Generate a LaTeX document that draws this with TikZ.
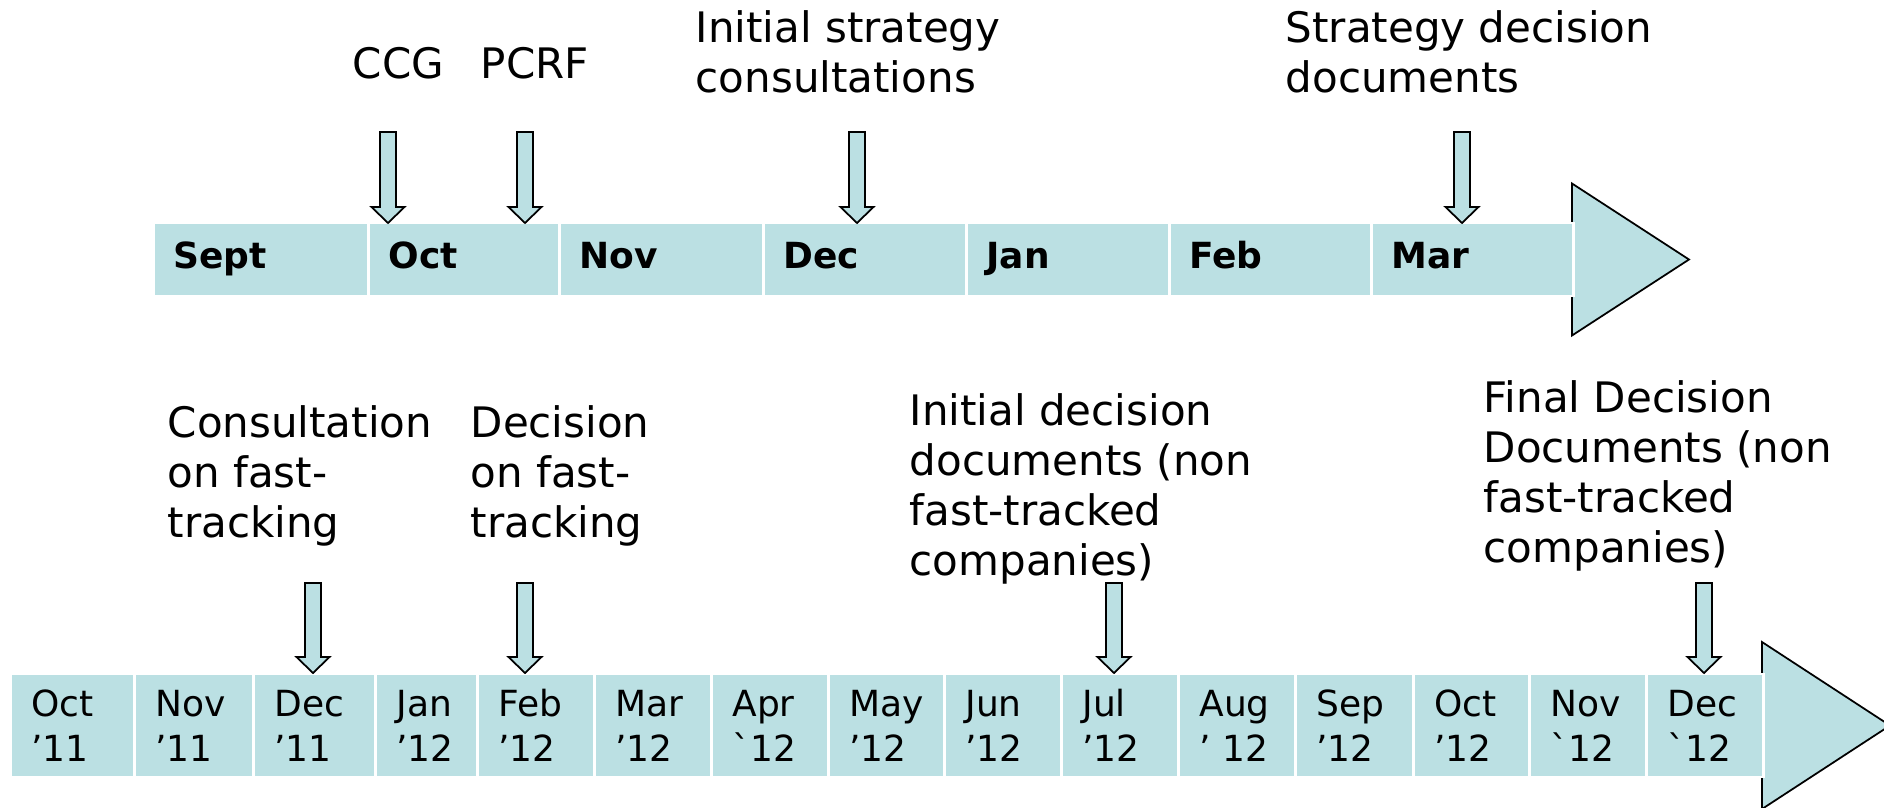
\documentclass[tikz,border=0pt]{standalone}
\usepackage{fontspec}
\setmainfont{DejaVu Sans}
\definecolor{bar}{RGB}{187,224,227}

% block arrow pointing down: x, top, tip
\newcommand{\cue}[3]{\draw[cue] (#1-0.08,#2) -- (#1+0.08,#2) -- (#1+0.08,#3+0.16) -- (#1+0.165,#3+0.16) -- (#1,#3) -- (#1-0.165,#3+0.16) -- (#1-0.08,#3+0.16) -- cycle;}

\begin{document}
\begin{tikzpicture}[
  topcell/.style={rectangle, fill=bar, draw=white, line width=0.8pt, minimum height=0.73cm, inner xsep=0.2cm, inner ysep=0pt, anchor=west, align=left, text height=0.27cm, text depth=0.09cm, font=\bfseries\fontsize{10.24}{12.3}\selectfont},
  botcell/.style={rectangle, fill=bar, draw=white, line width=0.8pt, minimum height=1.03cm, inner xsep=0.21cm, inner ysep=0pt, anchor=west, align=left, font=\fontsize{10.24}{12.8}\selectfont},
  note/.style={anchor=base west, inner sep=0pt, align=left, font=\fontsize{11.95}{14.2}\selectfont},
  cue/.style={fill=bar, draw=black, line width=0.5pt},
  timehead/.style={fill=bar, draw=black, line width=0.5pt}]
  \useasboundingbox (0,0) rectangle (18.84,8.07);
  \clip (0,0) rectangle (18.84,8.07);

  % first timeline
  \draw[timehead] (15.72,6.235) -- (16.89,5.475) -- (15.72,4.715) -- cycle;
  \node (sept) [topcell, text width=1.75cm] at (1.52,5.475) {Sept};
  \node (oct) [topcell, text width=1.51cm] at (3.67,5.475) {Oct};
  \node (nov) [topcell, text width=1.64cm] at (5.58,5.475) {Nov};
  \node (dec) [topcell, text width=1.63cm] at (7.62,5.475) {Dec};
  \node (jan) [topcell, text width=1.63cm] at (9.65,5.475) {Jan};
  \node (feb) [topcell, text width=1.62cm] at (11.68,5.475) {Feb};
  \node (mar) [topcell, text width=1.62cm] at (13.70,5.475) {Mar};

  % notes sit on the baseline of their last line
  \node (ccg) [note] at (3.52,7.29) {CCG};
  \node (pcrf) [note] at (4.80,7.29) {PCRF};
  \node (initstrat) [note] at (6.95,7.15) {Initial strategy\\consultations};
  \node (stratdec) [note] at (12.85,7.15) {Strategy decision\\documents};

  \cue{3.88}{6.75}{5.84}
  \cue{5.25}{6.75}{5.84}
  \cue{8.57}{6.75}{5.84}
  \cue{14.62}{6.75}{5.84}

  % second timeline
  \draw[timehead] (17.62,1.65) -- (18.90,0.815) -- (17.62,-0.02) -- cycle;
  \node (oct11) [botcell, text width=0.82cm] at (0.09,0.815) {Oct\\’11};
  \node (nov11) [botcell, text width=0.77cm] at (1.33,0.815) {Nov\\’11};
  \node (dec11) [botcell, text width=0.80cm] at (2.52,0.815) {Dec\\’11};
  \node (jan12) [botcell, text width=0.60cm] at (3.74,0.815) {Jan\\’12};
  \node (feb12) [botcell, text width=0.75cm] at (4.76,0.815) {Feb\\’12};
  \node (mar12) [botcell, text width=0.75cm] at (5.93,0.815) {Mar\\’12};
  \node (apr12) [botcell, text width=0.75cm] at (7.10,0.815) {Apr\\ˋ12};
  \node (may12) [botcell, text width=0.74cm] at (8.27,0.815) {May\\’12};
  \node (jun12) [botcell, text width=0.75cm] at (9.43,0.815) {Jun\\’12};
  \node (jul12) [botcell, text width=0.75cm] at (10.60,0.815) {Jul\\’12};
  \node (aug12) [botcell, text width=0.75cm] at (11.77,0.815) {Aug\\’ 12};
  \node (sep12) [botcell, text width=0.76cm] at (12.94,0.815) {Sep\\’12};
  \node (oct12) [botcell, text width=0.74cm] at (14.12,0.815) {Oct\\’12};
  \node (nov12) [botcell, text width=0.75cm] at (15.28,0.815) {Nov\\ˋ12};
  \node (dec12) [botcell, text width=0.75cm] at (16.45,0.815) {Dec\\ˋ12};

  \node (consult) [note] at (1.67,2.70) {Consultation\\on fast-\\tracking};
  \node (decision) [note] at (4.70,2.70) {Decision\\on fast-\\tracking};
  \node (initdec) [note] at (9.09,2.32) {Initial decision\\documents (non\\fast-tracked\\companies)};
  \node (finaldec) [note] at (14.83,2.45) {Final Decision\\Documents (non\\fast-tracked\\companies)};

  \cue{3.13}{2.24}{1.34}
  \cue{5.25}{2.24}{1.34}
  \cue{11.14}{2.24}{1.34}
  \cue{17.04}{2.24}{1.34}
\end{tikzpicture}
\end{document}
